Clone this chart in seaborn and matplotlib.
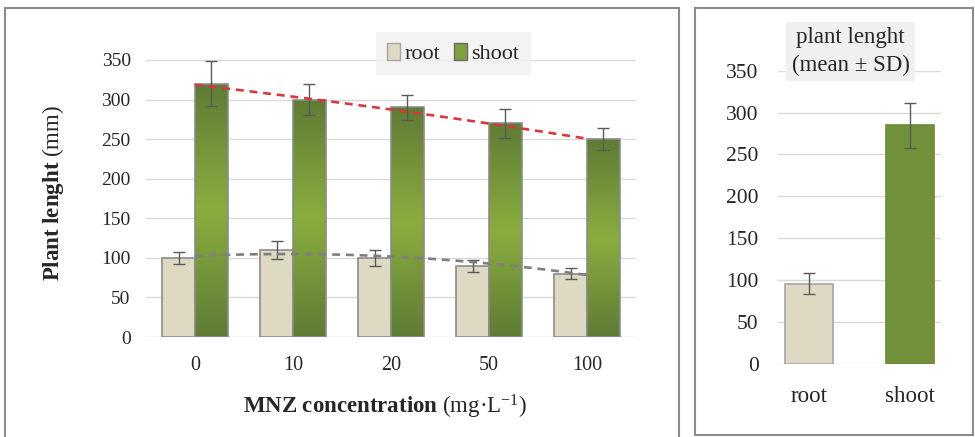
import numpy as np
import pandas as pd
import matplotlib
matplotlib.use("Agg")
import matplotlib.pyplot as plt
import seaborn as sns
from matplotlib.patches import Rectangle, Patch
from matplotlib.colors import LinearSegmentedColormap

# ---------------- data ----------------
concentrations = ["0", "10", "20", "50", "100"]
root_values = [100, 110, 100, 90, 80]
root_sd = [8, 11, 10, 7.5, 7]
shoot_values = [320, 300, 290, 270, 250]
shoot_sd = [28.5, 20, 16, 18, 14]

summary_parts = ["root", "shoot"]
summary_means = [96, 285]
summary_sd = [12, 27]

y_ticks = [0, 50, 100, 150, 200, 250, 300, 350]

# ---------------- style ----------------
sns.set_theme(style="white")
plt.rcParams["font.family"] = ["Liberation Serif", "DejaVu Serif"]
plt.rcParams["mathtext.fontset"] = "custom"
plt.rcParams["mathtext.rm"] = "Liberation Serif"
plt.rcParams["mathtext.bf"] = "Liberation Serif:bold"
plt.rcParams["mathtext.it"] = "Liberation Serif:italic"

ROOT_C = "#ddd9c3"
SHOOT_C = "#71913a"
GRID_C = "#d9d9d9"
TXT_C = "#262626"
ERR_C = "#595959"

W, H = 975, 437
fig = plt.figure(figsize=(W / 100, H / 100), dpi=100)
fig.patch.set_facecolor("white")

def fx(px):
    return px / W

def fy(py):
    return 1 - py / H

# frames
fig.patches.append(Rectangle((fx(5), fy(450)), fx(679) - fx(5), fy(8) - fy(450),
                             transform=fig.transFigure, fill=False,
                             edgecolor="#8c8c8c", linewidth=1.5, zorder=0))
fig.patches.append(Rectangle((fx(695), fy(435)), fx(973) - fx(695), fy(8) - fy(435),
                             transform=fig.transFigure, fill=False,
                             edgecolor="#8c8c8c", linewidth=1.5, zorder=0))

# ---------------- left panel ----------------
axL = fig.add_axes([fx(146), fy(337), fx(636) - fx(146), fy(60) - fy(337)])
df = pd.DataFrame({
    "conc": concentrations * 2,
    "part": ["root"] * 5 + ["shoot"] * 5,
    "value": root_values + shoot_values,
})
sns.barplot(data=df, x="conc", y="value", hue="part", order=concentrations,
            hue_order=["root", "shoot"], palette=[ROOT_C, SHOOT_C],
            width=0.67, errorbar=None, ax=axL, legend=False,
            edgecolor="#8c8c8c", linewidth=1.2, saturation=1)

# gradient fill for shoot bars
grad_cmap = LinearSegmentedColormap.from_list(
    "shootgrad", ["#5f7c35", "#8aad3e", "#5f7c35"])
grad = np.linspace(0, 1, 256).reshape(-1, 1)
for bar in axL.containers[1]:
    x0, y0 = bar.get_x(), bar.get_y()
    w, h = bar.get_width(), bar.get_height()
    im = axL.imshow(grad, extent=[x0, x0 + w, y0, y0 + h], origin="lower",
                    cmap=grad_cmap, aspect="auto", zorder=bar.get_zorder(),
                    interpolation="bilinear")
    im.set_clip_path(bar)
    bar.set_facecolor("none")
    bar.set_zorder(bar.get_zorder() + 0.1)
axL.set_ylim(0, 350)
axL.set_xlim(-0.5, 4.5)
axL.set_aspect("auto")

# error bars
for cont, sd in zip(axL.containers, [root_sd, shoot_sd]):
    xs = [b.get_x() + b.get_width() / 2 for b in cont]
    ys = [b.get_height() for b in cont]
    axL.errorbar(xs, ys, yerr=sd, fmt="none", ecolor=ERR_C, elinewidth=1,
                 capsize=4, capthick=1, zorder=6, clip_on=False)

# polynomial trend lines (order 2)
xc = np.arange(len(concentrations))
xs_s = np.linspace(0, len(concentrations) - 1, 200)
for vals, col in [(root_values, "#7f7f7f"), (shoot_values, "#d9363e")]:
    coef = np.polyfit(xc, vals, 2)
    axL.plot(xs_s, np.polyval(coef, xs_s), linestyle=(0, (3, 2.2)), color=col,
             linewidth=1.9, zorder=7)

axL.set_yticks(y_ticks)
axL.yaxis.grid(True, color=GRID_C, linewidth=1)
axL.set_axisbelow(True)
for s in axL.spines.values():
    s.set_visible(False)
axL.tick_params(axis="y", labelsize=14, pad=11, length=0, colors=TXT_C)
axL.tick_params(axis="x", labelsize=14.5, pad=14, length=0, colors=TXT_C)
axL.set_xlabel(r"$\mathbf{MNZ\ concentration}$ (mg·L$^{-1}$)", fontsize=16.5,
               color=TXT_C)
axL.set_ylabel(r"$\mathbf{Plant\ lenght}$ (mm)", fontsize=16.5, color=TXT_C)
axL.xaxis.set_label_coords(0.488, -0.2)
axL.yaxis.set_label_coords(-0.163, 0.52)

handles = [Patch(facecolor=ROOT_C, edgecolor="#a6a6a6", label="root"),
           Patch(facecolor="#7ea23b", edgecolor="#6a6a6a", label="shoot")]
leg = axL.legend(handles=handles, loc="center", bbox_to_anchor=(0.627, 1.022),
                 ncol=2, frameon=True, fontsize=16, handlelength=0.6,
                 handleheight=0.75, handletextpad=0.2, columnspacing=0.6,
                 borderpad=0.5, fancybox=False)
leg.get_frame().set_facecolor("#f0f0f0")
leg.get_frame().set_edgecolor("none")
for t in leg.get_texts():
    t.set_color(TXT_C)

# ---------------- right panel ----------------
axR = fig.add_axes([fx(778), fy(364), fx(941) - fx(778), fy(70.7) - fy(364)])
dfs = pd.DataFrame({"part": summary_parts, "value": summary_means})
sns.barplot(data=dfs, x="part", y="value", hue="part", order=summary_parts,
            palette=[ROOT_C, SHOOT_C], width=0.48, errorbar=None, ax=axR,
            legend=False, saturation=1, linewidth=1.2)
for cont in axR.containers:
    for b in cont:
        b.set_edgecolor("#a6a6a6" if b.get_facecolor()[0] > 0.7 else "#6b8a36")
axR.set_ylim(0, 350)
bars_r = [b for c in axR.containers for b in c]
bars_r.sort(key=lambda b: b.get_x())
xr = [b.get_x() + b.get_width() / 2 for b in bars_r]
yr = [b.get_height() for b in bars_r]
axR.errorbar(xr, yr, yerr=summary_sd, fmt="none", ecolor=ERR_C, elinewidth=1,
             capsize=4, capthick=1, zorder=6, clip_on=False)
axR.set_yticks(y_ticks)
axR.yaxis.grid(True, color=GRID_C, linewidth=1)
axR.set_axisbelow(True)
for s in axR.spines.values():
    s.set_visible(False)
axR.tick_params(axis="y", labelsize=15.5, pad=14, length=0, colors=TXT_C)
axR.tick_params(axis="x", labelsize=16.5, pad=16, length=0, colors=TXT_C)
axR.set_xlabel("")
axR.set_ylabel("")
axR.text(0.445, 1.065, "plant lenght\n(mean ± SD)", transform=axR.transAxes,
         ha="center", va="center", fontsize=16.5, color=TXT_C, linespacing=1.4,
         bbox=dict(facecolor="#f0f0f0", edgecolor="none", pad=4), zorder=8)

fig.savefig("out.png", dpi=100)
